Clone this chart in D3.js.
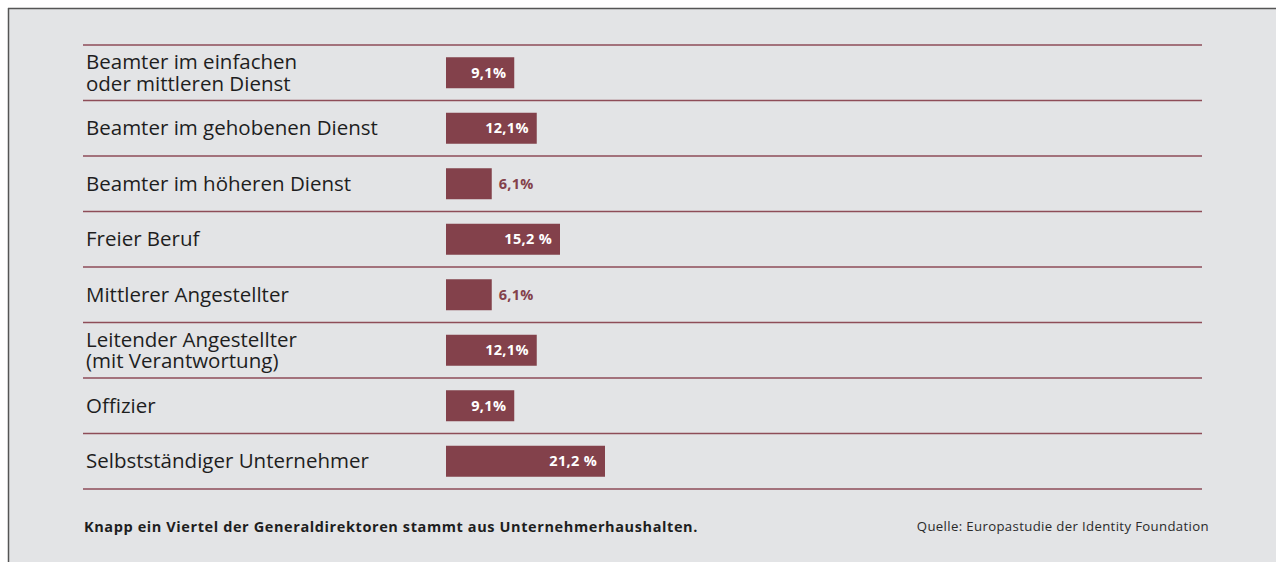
<!DOCTYPE html>
<html>
<head>
<meta charset="utf-8">
<script src="https://cdn.jsdelivr.net/npm/d3@7"></script>
<style>
  html, body { margin: 0; padding: 0; background: #ffffff; }
  svg { display: block; }
</style>
</head>
<body>
<svg id="chart" width="1276" height="562"></svg>
<script>
// Herkunft der Generaldirektoren nach Beruf des Vaters
const categories = [
  ["Beamter im einfachen", "oder mittleren Dienst"],
  ["Beamter im gehobenen Dienst"],
  ["Beamter im höheren Dienst"],
  ["Freier Beruf"],
  ["Mittlerer Angestellter"],
  ["Leitender Angestellter", "(mit Verantwortung)"],
  ["Offizier"],
  ["Selbstständiger Unternehmer"]
];
const values = [9.1, 12.1, 6.1, 15.2, 6.1, 12.1, 9.1, 21.2];
const valueLabels = ["9,1%", "12,1%", "6,1%", "15,2 %", "6,1%", "12,1%", "9,1%", "21,2 %"];
const caption = "Knapp ein Viertel der Generaldirektoren stammt aus Unternehmerhaushalten.";
const source = "Quelle: Europastudie der Identity Foundation";

const W = 1276, H = 562;
const barColor = "#83414b";
const ruleColor = "#8e4d58";
const font = "'Open Sans', 'DejaVu Sans', sans-serif";

const svg = d3.select("#chart");

// panel background with frame on top and left
svg.append("rect").attr("x", 8).attr("y", 8).attr("width", W - 8).attr("height", H - 8)
  .attr("fill", "#e3e4e6");
svg.append("line").attr("x1", 8).attr("x2", W).attr("y1", 8.5).attr("y2", 8.5)
  .attr("stroke", "#555").attr("stroke-width", 1.5);
svg.append("line").attr("x1", 8.5).attr("x2", 8.5).attr("y1", 8).attr("y2", H)
  .attr("stroke", "#555").attr("stroke-width", 1.5);

const left = 83, right = 1202;
const y = d3.scaleBand().domain(d3.range(categories.length)).range([45, 489]).paddingInner(0).paddingOuter(0);
const x = d3.scaleLinear().domain([0, 100]).range([446, 1196]);
const barH = 31;

// separator rules
const rules = d3.range(categories.length + 1).map(i => i === categories.length ? y.range()[1] : y(i));
svg.append("g").selectAll("line").data(rules).join("line")
  .attr("x1", left).attr("x2", right)
  .attr("y1", d => d).attr("y2", d => d)
  .attr("stroke", ruleColor).attr("stroke-width", 1.5);

const rows = svg.append("g").selectAll("g").data(values).join("g")
  .attr("transform", (d, i) => `translate(0,${y(i) + y.bandwidth() / 2})`);

// category labels
rows.append("text")
  .attr("x", 86)
  .attr("font-family", font)
  .attr("font-size", 20.5)
  .attr("fill", "#1e1e1e")
  .each(function(d, i) {
    const lines = categories[i];
    const lh = 21.5;
    const y0 = 7 - (lines.length - 1) * lh / 2;
    d3.select(this).selectAll("tspan").data(lines).join("tspan")
      .attr("x", 86).attr("y", (t, j) => y0 + j * lh).text(t => t);
  });

// bars
rows.append("rect")
  .attr("x", x(0))
  .attr("y", -barH / 2)
  .attr("width", d => x(d) - x(0))
  .attr("height", barH)
  .attr("fill", barColor);

// value labels: inside (white) for longer bars, outside otherwise
rows.append("text")
  .attr("font-family", font)
  .attr("font-size", 14.5)
  .attr("font-weight", "bold")
  .attr("letter-spacing", 0.3)
  .attr("y", 5)
  .each(function(d, i) {
    const w = x(d) - x(0);
    const inside = w > 60;
    d3.select(this)
      .attr("x", inside ? x(d) - 8 : x(d) + 7)
      .attr("text-anchor", inside ? "end" : "start")
      .attr("fill", inside ? "#ffffff" : barColor)
      .text(valueLabels[i]);
  });

// footer
svg.append("text").attr("x", 84).attr("y", 532)
  .attr("font-family", font).attr("font-size", 14.5).attr("font-weight", "bold")
  .attr("letter-spacing", 0.6)
  .attr("fill", "#1e1e1e").text(caption);
svg.append("text").attr("x", 1209).attr("y", 531).attr("text-anchor", "end")
  .attr("font-family", font).attr("font-size", 13.2)
  .attr("letter-spacing", 0.35)
  .attr("fill", "#2a2a2a").text(source);
</script>
</body>
</html>
